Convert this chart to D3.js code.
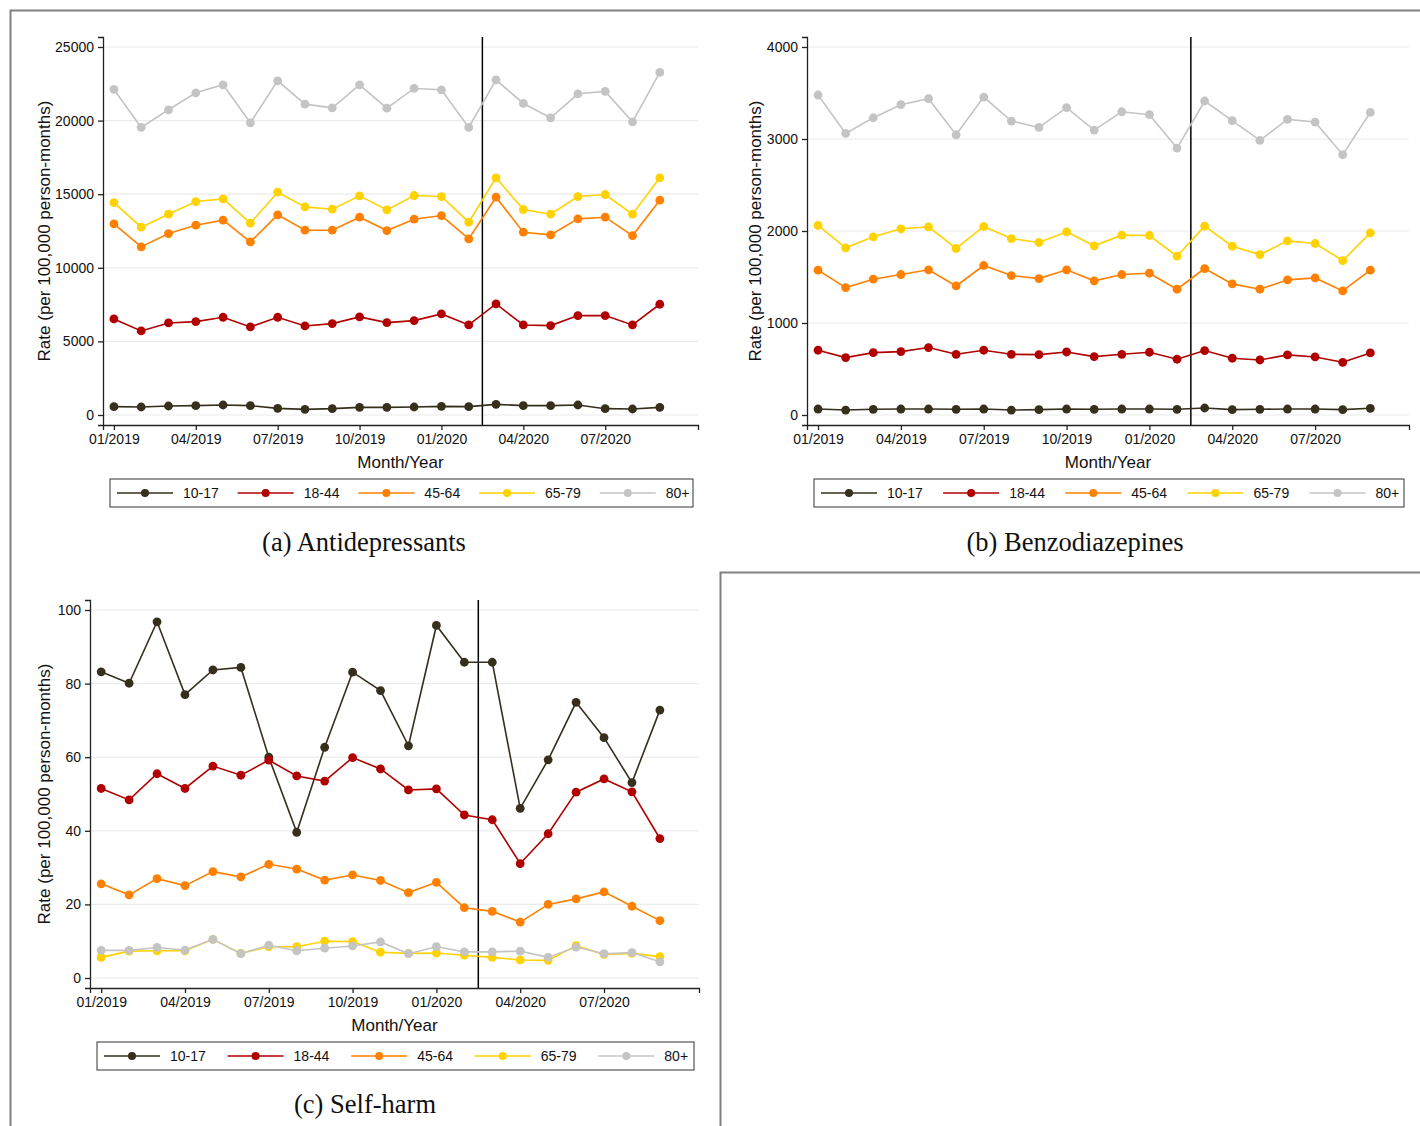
<!DOCTYPE html>
<html>
<head>
<meta charset="utf-8">
<script src="https://cdn.jsdelivr.net/npm/d3@7/dist/d3.min.js"></script>
<style>
  html, body { margin: 0; padding: 0; background: #fff; }
  svg { display: block; }
  .tick text { font-family: "Liberation Sans", Arial, sans-serif; font-size: 14px; fill: #111; }
</style>
</head>
<body>
<svg id="fig" width="1420" height="1126"></svg>
<script>
// Months observed, January 2019 to September 2020
const months = ["01/2019","02/2019","03/2019","04/2019","05/2019","06/2019","07/2019","08/2019","09/2019",
                "10/2019","11/2019","12/2019","01/2020","02/2020","03/2020","04/2020","05/2020","06/2020",
                "07/2020","08/2020","09/2020"];
const monthTicks = ["01/2019","04/2019","07/2019","10/2019","01/2020","04/2020","07/2020"];
const ageGroups = ["10-17","18-44","45-64","65-79","80+"];
// Interruption placed between February and March 2020
const breakMonth = 13.5;

// (a) Antidepressants, rate per 100,000 person-months
const antidep10_17 = [566,544,612,634,680,634,453,385,430,521,521,544,589,566,725,634,634,680,430,408,521];
const antidep18_44 = [6526,5710,6254,6345,6639,5982,6639,6050,6209,6662,6277,6413,6866,6118,7546,6118,6073,6753,6753,6118,7523];
const antidep45_64 = [12984,11421,12327,12894,13233,11761,13596,12554,12554,13437,12531,13301,13551,11964,14797,12418,12236,13324,13437,12191,14593];
const antidep65_79 = [14434,12758,13641,14502,14684,13030,15137,14140,13981,14888,13936,14910,14842,13098,16111,13959,13641,14842,14978,13641,16111];
const antidep80 = [22117,19533,20734,21890,22433,19850,22705,21119,20870,22433,20847,22184,22094,19533,22773,21164,20190,21822,21980,19918,23272];
const antidepTicks = [0,5000,10000,15000,20000,25000];

// (b) Benzodiazepines, rate per 100,000 person-months
const benzo10_17 = [65,54,62,65,65,62,65,54,58,65,62,65,65,62,76,58,62,65,65,58,73];
const benzo18_44 = [704,624,678,689,733,660,704,660,656,685,635,660,682,606,700,617,598,653,631,573,675];
const benzo45_64 = [1574,1385,1476,1527,1578,1403,1625,1516,1483,1578,1458,1527,1541,1367,1592,1425,1367,1469,1490,1349,1574];
const benzo65_79 = [2060,1817,1937,2024,2045,1810,2049,1918,1875,1991,1839,1955,1951,1726,2053,1835,1744,1893,1864,1679,1980];
const benzo80 = [3478,3061,3231,3373,3438,3046,3456,3195,3126,3340,3097,3296,3264,2901,3413,3199,2985,3213,3184,2829,3289];
const benzoTicks = [0,1000,2000,3000,4000];

// (c) Self-harm, rate per 100,000 person-months
const harm10_17 = [83.2,80.1,96.8,77.0,83.7,84.4,60.0,39.6,62.7,83.1,78.1,63.1,95.8,85.8,85.8,46.1,59.3,74.9,65.3,53.1,72.8];
const harm18_44 = [51.5,48.4,55.5,51.5,57.6,55.1,59.2,54.9,53.5,59.9,56.8,51.1,51.4,44.3,43.0,31.1,39.2,50.5,54.1,50.6,37.9];
const harm45_64 = [25.6,22.6,27.0,25.1,28.9,27.5,30.9,29.6,26.6,28.0,26.5,23.2,26.0,19.1,18.1,15.2,20.0,21.5,23.4,19.5,15.6];
const harm65_79 = [5.6,7.3,7.4,7.4,10.5,6.7,8.5,8.5,10.0,9.9,7.0,6.7,6.8,6.2,5.6,4.9,4.8,8.8,6.4,6.7,5.8];
const harm80 = [7.5,7.5,8.3,7.6,10.5,6.6,8.9,7.4,8.1,8.7,9.8,6.6,8.5,7.1,7.1,7.3,5.6,8.4,6.6,6.9,4.4];
const harmTicks = [0,20,40,60,80,100];

const seriesColors = ["#352f1c", "#b00000", "#ff8000", "#ffd200", "#c4c4c4"];
const FONT = '"Liberation Sans", Arial, sans-serif';
const SERIF = '"Liberation Serif", "Times New Roman", serif';

const svg = d3.select("#fig");

// Page frame lines
svg.append("path")
  .attr("d", "M10.5,1126 V10.5 H1420 M720.5,1126 V572.5 H1420")
  .attr("fill", "none").attr("stroke", "#808080").attr("stroke-width", 2);

const panels = [
  { series: [antidep10_17, antidep18_44, antidep45_64, antidep65_79, antidep80], ticks: antidepTicks,
    left: 103, right: 698, top: 37, bottom: 425, yTitleX: 46, caption: "(a) Antidepressants", captionX: 364, captionY: 551 },
  { series: [benzo10_17, benzo18_44, benzo45_64, benzo65_79, benzo80], ticks: benzoTicks,
    left: 807, right: 1409, top: 37, bottom: 425, yTitleX: 757, caption: "(b) Benzodiazepines", captionX: 1075, captionY: 551 },
  { series: [harm10_17, harm18_44, harm45_64, harm65_79, harm80], ticks: harmTicks,
    left: 90, right: 699, top: 600, bottom: 988, yTitleX: 46, caption: "(c) Self-harm", captionX: 365, captionY: 1113 }
];

panels.forEach(p => {
  const g = svg.append("g");
  const maxTick = d3.max(p.ticks);
  const pad = maxTick * 10 / (p.bottom - p.top - 20);
  const x = d3.scaleLinear().domain([-0.4, 21.4]).range([p.left, p.right]);
  const y = d3.scaleLinear().domain([-pad, maxTick + pad]).range([p.bottom, p.top]);

  // horizontal grid
  g.append("g").selectAll("line").data(p.ticks).join("line")
    .attr("x1", p.left).attr("x2", p.right)
    .attr("y1", d => y(d)).attr("y2", d => y(d))
    .attr("stroke", "#ebebeb").attr("stroke-width", 1.2);

  // y axis
  const yAxis = g.append("g").attr("transform", `translate(${p.left},0)`)
    .call(d3.axisLeft(y).tickValues(p.ticks).tickFormat(d3.format("d")).tickSizeOuter(0).tickSize(5).tickPadding(4));
  yAxis.selectAll("path, line").attr("stroke", "#222").attr("stroke-width", 1.3);
  yAxis.selectAll(".tick text").attr("font-size", 14.5);

  // x axis
  const tickIdx = monthTicks.map(m => months.indexOf(m));
  const xAxis = g.append("g").attr("transform", `translate(0,${p.bottom})`)
    .call(d3.axisBottom(x).tickValues(tickIdx).tickFormat(i => months[i]).tickSizeOuter(0).tickSize(5).tickPadding(4));
  xAxis.selectAll("path, line").attr("stroke", "#222").attr("stroke-width", 1.3);

  // axis titles
  g.append("text")
    .attr("transform", `translate(${p.yTitleX},${(p.top + p.bottom) / 2}) rotate(-90)`)
    .attr("text-anchor", "middle").attr("dominant-baseline", "middle")
    .attr("font-family", FONT).attr("font-size", 17).attr("fill", "#111")
    .text("Rate (per 100,000 person-months)");
  g.append("text")
    .attr("x", (p.left + p.right) / 2).attr("y", p.bottom + 43)
    .attr("text-anchor", "middle")
    .attr("font-family", FONT).attr("font-size", 17).attr("fill", "#111")
    .text("Month/Year");

  // interruption line
  g.append("line")
    .attr("x1", x(breakMonth)).attr("x2", x(breakMonth))
    .attr("y1", p.top).attr("y2", p.bottom)
    .attr("stroke", "#000").attr("stroke-width", 1.5);

  // series lines and markers
  const line = d3.line().x((d, i) => x(i)).y(d => y(d));
  p.series.forEach((vals, s) => {
    g.append("path").datum(vals)
      .attr("d", line).attr("fill", "none")
      .attr("stroke", seriesColors[s]).attr("stroke-width", 1.6);
    g.append("g").selectAll("circle").data(vals).join("circle")
      .attr("cx", (d, i) => x(i)).attr("cy", d => y(d)).attr("r", 4.4)
      .attr("fill", seriesColors[s]);
  });

  // legend
  const lx = p.left + 7, lw = (p.right - 5) - lx;
  const ly = p.bottom + 54, lh = 28;
  const lg = g.append("g");
  lg.append("rect").attr("x", lx).attr("y", ly).attr("width", lw).attr("height", lh)
    .attr("fill", "#fff").attr("stroke", "#333").attr("stroke-width", 1);
  const step = lw * 0.207;
  ageGroups.forEach((name, s) => {
    const mx = lx + 35 + s * step, my = ly + lh / 2;
    lg.append("line").attr("x1", mx - 28).attr("x2", mx + 28).attr("y1", my).attr("y2", my)
      .attr("stroke", seriesColors[s]).attr("stroke-width", 1.6);
    lg.append("circle").attr("cx", mx).attr("cy", my).attr("r", 4).attr("fill", seriesColors[s]);
    lg.append("text").attr("x", mx + 38).attr("y", my).attr("dominant-baseline", "central")
      .attr("font-family", FONT).attr("font-size", 14).attr("fill", "#111").text(name);
  });

  // caption
  g.append("text").attr("x", p.captionX).attr("y", p.captionY)
    .attr("text-anchor", "middle")
    .attr("font-family", SERIF).attr("font-size", 26.5).attr("fill", "#111")
    .text(p.caption);
});
</script>
</body>
</html>
